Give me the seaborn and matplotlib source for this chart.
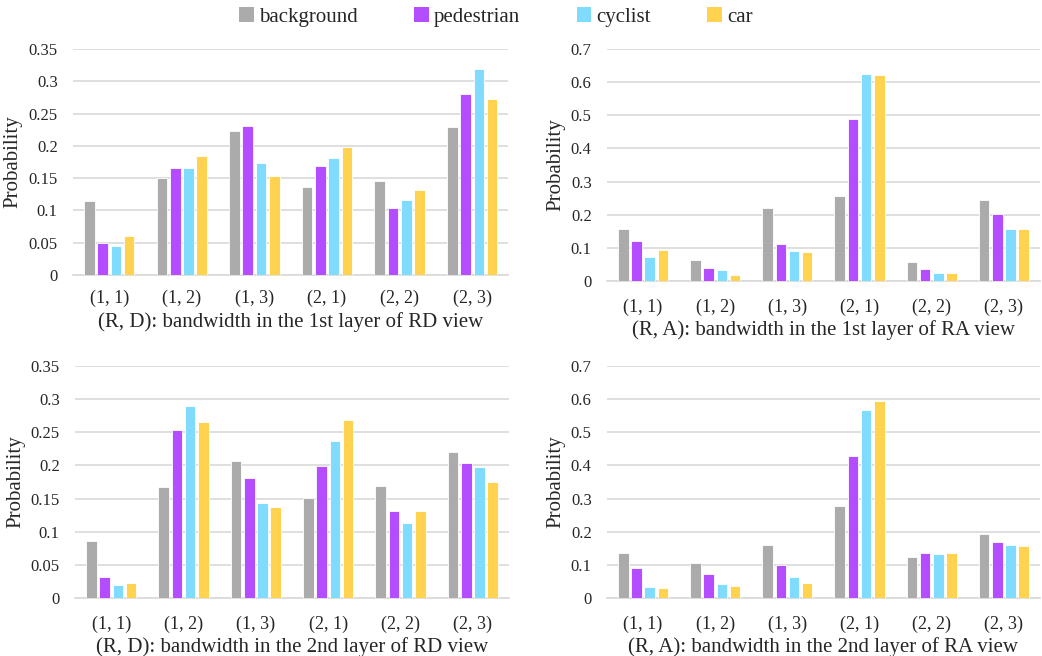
import matplotlib
matplotlib.use("Agg")
import matplotlib.pyplot as plt
import seaborn as sns
import pandas as pd
import numpy as np
from matplotlib.patches import Patch

categories = ["(1, 1)", "(1, 2)", "(1, 3)", "(2, 1)", "(2, 2)", "(2, 3)"]
classes = ["background", "pedestrian", "cyclist", "car"]
colors = ["#ABABAB", "#B44CFF", "#80DCFF", "#FFD34F"]

# (R, D) 1st layer RD view
rd1_background = [0.115, 0.151, 0.223, 0.137, 0.145, 0.229]
rd1_pedestrian = [0.050, 0.166, 0.231, 0.169, 0.104, 0.280]
rd1_cyclist = [0.044, 0.165, 0.174, 0.182, 0.116, 0.320]
rd1_car = [0.060, 0.184, 0.154, 0.198, 0.131, 0.272]

# (R, A) 1st layer RA view
ra1_background = [0.157, 0.064, 0.220, 0.257, 0.056, 0.244]
ra1_pedestrian = [0.122, 0.038, 0.113, 0.490, 0.037, 0.202]
ra1_cyclist = [0.072, 0.032, 0.092, 0.626, 0.023, 0.157]
ra1_car = [0.093, 0.019, 0.087, 0.621, 0.023, 0.157]

# (R, D) 2nd layer RD view
rd2_background = [0.086, 0.168, 0.206, 0.151, 0.169, 0.220]
rd2_pedestrian = [0.032, 0.254, 0.181, 0.199, 0.131, 0.204]
rd2_cyclist = [0.019, 0.289, 0.144, 0.237, 0.113, 0.197]
rd2_car = [0.023, 0.265, 0.137, 0.269, 0.131, 0.175]

# (R, A) 2nd layer RA view
ra2_background = [0.136, 0.106, 0.161, 0.278, 0.124, 0.194]
ra2_pedestrian = [0.091, 0.073, 0.101, 0.428, 0.135, 0.170]
ra2_cyclist = [0.033, 0.043, 0.062, 0.568, 0.133, 0.160]
ra2_car = [0.031, 0.035, 0.044, 0.594, 0.136, 0.158]

xlabels = [
    "(R, D): bandwidth in the 1st layer of RD view",
    "(R, A): bandwidth in the 1st layer of RA view",
    "(R, D): bandwidth in the 2nd layer of RD view",
    "(R, A): bandwidth in the 2nd layer of RA view",
]

sns.set_theme(style="white")
plt.rcParams["font.family"] = ["Liberation Serif", "DejaVu Serif"]

fig = plt.figure(figsize=(10.42, 6.56), dpi=100)

panels = [
    ([rd1_background, rd1_pedestrian, rd1_cyclist, rd1_car], [0.070, 0.581, 0.418, 0.344], 0.35, 0.05, 11),
    ([ra1_background, ra1_pedestrian, ra1_cyclist, ra1_car], [0.5825, 0.5716, 0.4155, 0.3537], 0.7, 0.1, 13),
    ([rd2_background, rd2_pedestrian, rd2_cyclist, rd2_car], [0.072, 0.0884, 0.4165, 0.3537], 0.35, 0.05, 13),
    ([ra2_background, ra2_pedestrian, ra2_cyclist, ra2_car], [0.5825, 0.0884, 0.4155, 0.3537], 0.7, 0.1, 13),
]

for i, (series, pos, ymax, step, xpad) in enumerate(panels):
    ax = fig.add_axes(pos)
    rows = []
    for cls, vals in zip(classes, series):
        for cat, v in zip(categories, vals):
            rows.append({"cat": cat, "cls": cls, "val": v})
    df = pd.DataFrame(rows)
    sns.barplot(data=df, x="cat", y="val", hue="cls", order=categories,
                hue_order=classes, palette=colors, saturation=1, width=0.73, gap=0.2,
                edgecolor="white", linewidth=0.6, ax=ax, legend=False, zorder=3)
    ax.set_ylim(0, ymax)
    ax.set_xlim(-0.5, 5.5)
    ticks = np.round(np.arange(0, ymax + step / 2, step), 2)
    ax.set_yticks(ticks)
    ax.set_yticklabels([("%g" % t) for t in ticks])
    ax.yaxis.grid(True, color="#D9D9D9", linewidth=1.2, zorder=0)
    ax.set_axisbelow(True)
    for s in ["top", "right", "left"]:
        ax.spines[s].set_visible(False)
    ax.spines["bottom"].set_color("#D9D9D9")
    ax.spines["bottom"].set_linewidth(1.2)
    ax.tick_params(axis="y", labelsize=12, length=0, pad=11)
    ax.tick_params(axis="x", labelsize=13, length=0, pad=xpad)
    ax.set_ylabel("Probability", fontsize=15, labelpad=4)
    ax.set_xlabel(xlabels[i], fontsize=15, labelpad=3)

handles = [Patch(facecolor=c, edgecolor="none") for c in colors]
fig.legend(handles, classes, loc="upper center", bbox_to_anchor=(0.476, 1.018), ncol=4,
           frameon=False, fontsize=15, handlelength=0.7, handleheight=0.7,
           handletextpad=0.25, columnspacing=2.7)

fig.savefig("out.png", dpi=100)
